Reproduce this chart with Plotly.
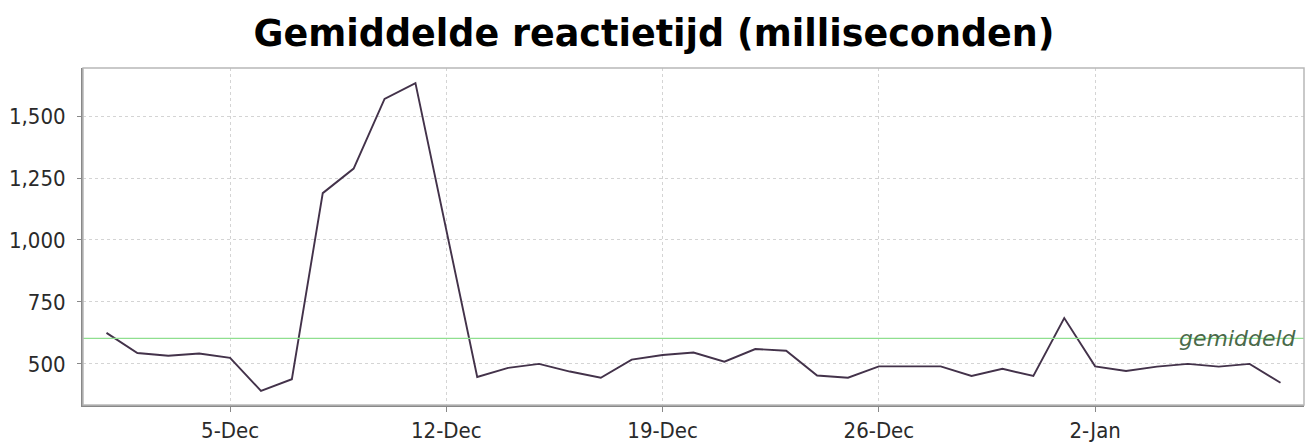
import pandas as pd
from plotly import graph_objects as go

# daily average response time, 1 Dec - 8 Jan
start_date = "2010-12-01"
response_ms = [
    625, 544, 533, 542, 524, 391, 438, 1189, 1288, 1569, 1633, 1040, 447,
    484, 500, 469, 444, 517, 536, 546, 509, 560, 553, 453, 444,
    490, 490, 490, 451, 480, 451, 685, 490, 471, 489, 500, 489, 500, 424,
]
average_ms = 603
average_label = "gemiddeld"

tick_dates = ["2010-12-05", "2010-12-12", "2010-12-19", "2010-12-26", "2011-01-02"]
tick_labels = ["5-Dec", "12-Dec", "19-Dec", "26-Dec", "2-Jan"]
y_ticks = [500, 750, 1000, 1250, 1500]
y_labels = ["500", "750", "1,000", "1,250", "1,500"]

dates = pd.date_range(start_date, periods=len(response_ms), freq="D")

fig = go.Figure()
fig.add_trace(
    go.Scatter(
        x=dates,
        y=response_ms,
        mode="lines",
        line=dict(color="#43324a", width=1.9),
        showlegend=False,
    )
)

# average marker line
fig.add_hline(y=average_ms, line=dict(color="#8fdf8f", width=1.2), layer="above")
fig.add_annotation(
    x=1,
    xref="paper",
    y=average_ms,
    yref="y",
    xanchor="right",
    yanchor="middle",
    xshift=-5,
    text=average_label,
    showarrow=False,
    font=dict(family="DejaVu Sans", size=22, color="#4a6a4a", style="italic"),
)

# frame around the plot area
fig.add_shape(
    type="rect",
    xref="paper",
    yref="paper",
    x0=0,
    x1=1,
    y0=0,
    y1=1,
    line=dict(color="#b8b8b8", width=1.5),
)

fig.update_layout(
    width=1308,
    height=447,
    title=dict(
        text="<b>Gemiddelde reactietijd (milliseconden)</b>",
        x=0.5,
        xanchor="center",
        y=0.925,
        yanchor="middle",
        font=dict(family="DejaVu Sans", size=36.5, color="black"),
    ),
    margin=dict(l=83, r=4, t=68, b=37),
    plot_bgcolor="white",
    paper_bgcolor="white",
    font=dict(family="DejaVu Sans Condensed, DejaVu Sans", size=22, color="#2a2a2a"),
)
fig.update_xaxes(
    type="date",
    range=["2010-11-30 05:45", "2011-01-08 18:15"],
    tickvals=tick_dates,
    ticktext=tick_labels,
    ticks="outside",
    ticklen=5,
    tickcolor="#888",
    showgrid=True,
    gridcolor="#d4d4d4",
    griddash="3px,3px",
    zeroline=False,
    showline=True,
    linecolor="#888",
    linewidth=2,
)
fig.update_yaxes(
    range=[334, 1694],
    tickvals=y_ticks,
    ticktext=y_labels,
    ticks="outside",
    ticklen=4,
    tickcolor="#888",
    ticklabelstandoff=7,
    showgrid=True,
    gridcolor="#d4d4d4",
    griddash="3px,3px",
    zeroline=False,
    showline=True,
    linecolor="#888",
    linewidth=2,
)

fig.write_html(
    "out.html",
    config={"displayModeBar": False},
    post_script="document.body.style.margin='0';",
)
